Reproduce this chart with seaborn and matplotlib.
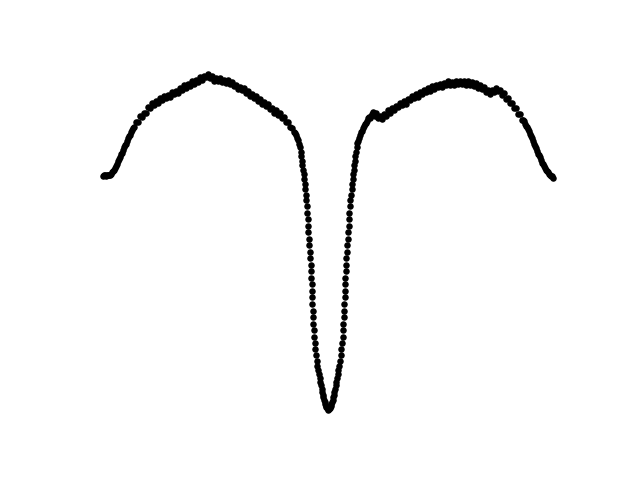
import numpy as np
import pandas as pd
import matplotlib
matplotlib.use("Agg")
import matplotlib.pyplot as plt
import seaborn as sns

# Values (arbitrary units; "depth" grows downward)
left_arm_x = [102.5, 104, 105, 106, 107, 108, 109, 110, 111, 112, 113, 114, 115, 116, 117, 118, 119, 120,
              121, 122, 123, 124, 125, 126, 127, 128, 129, 130, 131, 132, 133, 134,
              136, 138, 140, 142, 144, 146, 148, 150, 152, 154, 156, 158, 160, 162, 164, 166, 168, 170,
              172, 174, 176, 178, 180, 182, 184, 186, 188, 190, 192, 194, 196, 198, 200, 202, 204, 206,
              208, 210, 212, 214, 216, 218, 220, 222, 224, 226, 228, 230, 232, 234, 236, 238, 240, 242,
              244, 246, 248, 250, 252, 254, 256, 258, 260, 262, 264, 266, 268, 270, 272, 274, 276, 278,
              280, 282, 284, 286, 288, 290, 292, 294, 295, 296, 297, 298, 299]
left_arm_depth = [175.5, 175, 175, 175.5, 175, 174.5, 174.5, 174.5, 173.5, 172, 171, 169.5, 168, 166, 163.5,
                  161, 159, 156.5, 154.3, 152.5, 149.8, 147, 145.3, 143.5, 140.7, 138, 136.2, 134.5, 132,
                  129.5, 128.2, 126.5,
                  121.5, 121.5, 115.5, 116.5, 112.5, 113, 107.5, 108.5, 103.5, 105.5,
                  101, 103, 98.5, 100, 96, 98.5, 95.5, 97.5, 92.5, 94.5,
                  91, 93.5, 88.5, 90, 85.5, 88, 84.5, 86.5, 81.5, 84,
                  80, 82, 77.5, 80.5, 76.5, 77.5, 74.5, 78, 76.5, 81,
                  78.5, 81.5, 78.5, 82, 80, 83.5, 80.5, 84.5, 82, 86.5,
                  85, 89.5, 87, 90.5, 88.5, 93, 91.5, 96, 94, 98.5,
                  96, 101, 99.5, 104.5, 102.5, 106.5, 104.5, 109.5, 108, 112.5,
                  110.5, 115, 112.5, 118, 117, 122, 121.5, 126.5, 127.5,
                  131.5, 133, 134.5, 137.5, 140, 143.5]

dip_left_x = [300.0, 300.6, 301.2, 301.8, 302.4, 303.0, 303.5, 304.0, 304.5, 305.0, 305.6, 306.2, 306.7,
              307.1, 307.5, 307.9, 308.3, 308.8, 309.3, 309.8, 310.2, 310.6, 311.0, 311.3, 311.6, 311.8,
              312.0, 312.2, 312.5, 312.8, 313.1, 313.5, 314.0, 314.5, 315.1, 315.8, 316.6, 317.4, 318.2,
              319.0, 319.7, 320.3, 320.9, 321.5, 322.1, 322.7, 323.3, 323.9, 324.5, 325.1, 325.7, 326.3,
              326.9, 327.5, 328.3]
dip_left_depth = [147, 151.5, 156, 160.5, 165, 169.5, 174, 179, 184, 189, 194.5, 200, 206, 212.5, 219,
                  225.5, 232, 238.5, 245, 251.5, 258, 264.5, 271, 277.5, 284, 290.5, 297, 303.5, 310,
                  316.5, 323, 329.5, 336, 342.5, 348.5, 354.5, 360, 365, 369.5,
                  373.5, 377.5, 381, 384.5, 388, 391, 394, 396.5, 399, 401, 403, 404.8, 406.3, 407.6, 408.6,
                  409.6]

dip_right_x = [329.1, 329.7, 330.3, 330.9, 331.5, 332.1, 332.7, 333.3, 333.9, 334.5, 335.1, 335.7, 336.3,
               336.9, 337.6, 338.4, 339.2, 340.0, 340.8, 341.5, 342.1, 342.6, 343.1, 343.5, 343.8, 344.1,
               344.4, 344.6, 344.8, 345.0, 345.3, 345.6, 346.0, 346.4, 346.8, 347.3, 347.8, 348.3, 348.7,
               349.1, 349.5, 349.9, 350.4, 351.0, 351.6, 352.1, 352.6, 353.1, 353.6, 354.2, 354.8, 355.4,
               356.0, 356.6]
dip_right_depth = [408.6, 407.6, 406.3, 404.8, 403, 401, 399, 396.5, 394, 391, 388, 384.5, 381, 377.5, 373.5,
                   369.5, 365, 360, 354.5, 348.5, 342.5, 336, 329.5, 323, 316.5, 310, 303.5, 297, 290.5,
                   284, 277.5, 271, 264.5, 258, 251.5, 245, 238.5, 232, 225.5, 219, 212.5, 206, 200, 194.5,
                   189, 184, 179, 174, 169.5, 165, 160.5, 156, 151.5, 147]

right_arm_x = [357, 358, 359, 360, 361, 362, 363, 364, 365, 366, 367, 368, 369, 370, 371, 372, 373, 374, 375,
               376, 378, 380, 382, 384, 386, 388, 390, 392, 394, 396, 398, 400, 402, 404, 406, 408, 410,
               412, 414, 416, 418, 420, 422, 424, 426, 428, 430, 432, 434, 436, 438, 440, 442, 444, 446,
               448, 450, 452, 454, 456, 458, 460, 462, 464, 466, 468, 470, 472, 474, 476, 478, 480, 482,
               484, 486, 488, 490, 492, 494, 496, 498, 500, 502, 504, 506, 508, 510, 512, 514, 516, 518,
               520, 522, 523, 524, 525, 526, 527, 528, 529, 530, 531, 532, 533, 534, 535, 536, 537, 538,
               539, 540, 541, 542, 543, 544, 545, 546, 547, 548, 549, 550, 551, 552, 553.5]
right_arm_depth = [143, 140.5, 137.5, 134.5, 132, 130.5, 128, 125.5, 124, 122.5, 120.5, 118, 117, 117.5,
                   115.5, 113.5, 112, 115, 116,
                   113, 118, 116, 119, 114, 115.5, 110.5, 112.5, 108.5, 110.5,
                   106, 107.5, 103, 105.5, 101.5, 104, 99, 100.5, 96, 98.5,
                   94.5, 97, 92.5, 94.5, 90, 92.5, 88.5, 91, 86.5, 89,
                   85, 87.5, 84, 87, 83, 85.5, 81.5, 85, 82, 85,
                   81.5, 84.5, 81, 84.5, 81.5, 85, 81.5, 85, 82, 86,
                   83.5, 88, 85.5, 89.5, 87.5, 92, 90.5, 94.5, 90.5, 92,
                   88, 91.5, 90, 95, 93.5, 99, 98, 103.5, 103, 108.5,
                   108, 114, 114,
                   119.5, 120, 121, 124, 126, 127, 128.5, 131, 134, 135.5, 137.5, 140.5, 143.5, 145.5,
                   147.5, 150.5, 153.5, 155, 157, 160, 162.5, 164, 166, 168, 170, 170.5, 171.5, 173.5, 175,
                   175.5, 176, 177.5]

wave = np.concatenate([left_arm_x, dip_left_x, dip_right_x, right_arm_x])
depth = np.concatenate([left_arm_depth, dip_left_depth, dip_right_depth, right_arm_depth])
df = pd.DataFrame({"wave": wave, "depth": depth})

fig, ax = plt.subplots(figsize=(6.4, 4.8), dpi=100)
sns.scatterplot(data=df, x="wave", y="depth", ax=ax, color="black", s=22, linewidth=0)
ax.invert_yaxis()
ax.axis("off")
fig.savefig("out.png", dpi=100)
